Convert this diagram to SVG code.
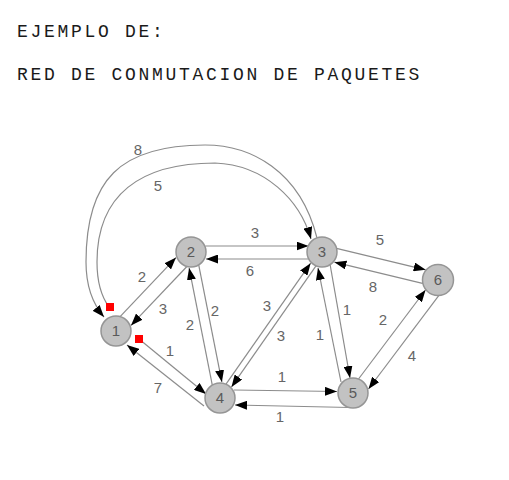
<svg xmlns="http://www.w3.org/2000/svg" width="509" height="480" viewBox="0 0 509 480">
<style>
.title{font-family:"Liberation Mono",monospace;font-size:18px;letter-spacing:2.7px;fill:#1a1a1a}
.edge{fill:none;stroke:#8c8c8c;stroke-width:1.2;marker-end:url(#ah)}
.lbl{font-family:"Liberation Sans",Arial,sans-serif;font-size:15px;fill:#666;text-anchor:middle}
.node circle{fill:#c2c2c2;stroke:#959595;stroke-width:1.5}
.node text{font-family:"Liberation Sans",Arial,sans-serif;font-size:15px;fill:#5a5a5a;text-anchor:middle}
.handle{fill:#ff0000}
</style>
<defs>
<marker id="ah" viewBox="0 0 12 9" refX="12" refY="4.5" markerWidth="12" markerHeight="9" markerUnits="userSpaceOnUse" orient="auto">
<path d="M0,0 L12,4.5 L0,9 z" fill="#000"/>
</marker>
</defs>
<rect width="509" height="480" fill="#fff"/>
<text class="title" x="17" y="37">EJEMPLO DE:</text>
<text class="title" x="17" y="80">RED DE CONMUTACION DE PAQUETES</text>
<g id="connectors">
<path class="edge" d="M205.5,246 L308.5,246"/>
<path class="edge" d="M308.5,259 L206,259"/>
<path class="edge" d="M120.1,316.6 L176,257.6"/>
<path class="edge" d="M186.9,266.5 L131,325.4"/>
<path class="edge" d="M198.7,264.9 L221.9,382.1"/>
<path class="edge" d="M212.3,385.1 L189.1,267.9"/>
<path class="edge" d="M226,384.2 L310.6,263.2"/>
<path class="edge" d="M316,265.8 L231.5,386.9"/>
<path class="edge" d="M330,264 L350,378"/>
<path class="edge" d="M341,382 L318,268"/>
<path class="edge" d="M336.5,248.3 L425.7,269.8"/>
<path class="edge" d="M423.5,283.7 L334.4,262.2"/>
<path class="edge" d="M358.5,379 L425.5,290"/>
<path class="edge" d="M439.3,294.9 L368.5,389"/>
<path class="edge" d="M234,390 L337,391.5"/>
<path class="edge" d="M350,407.5 L235,405"/>
<path class="edge" d="M139,339 L206,394"/>
<path class="edge" d="M204,406 L127,345"/>
<path class="edge" d="M317,238 C300,170 250,145 205,145 C120,145 86,180 86,262 C86,285 92,303 104,317"/>
<path class="edge" d="M109,307 C101,296 97,282 97,262 C97,195 140,163 215,163 C265,165 300,200 311,239"/>
<text class="lbl" x="138" y="155.4">8</text>
<text class="lbl" x="158" y="191.4">5</text>
<text class="lbl" x="255" y="238.4">3</text>
<text class="lbl" x="250" y="276.4">6</text>
<text class="lbl" x="142" y="282.4">2</text>
<text class="lbl" x="163" y="314.4">3</text>
<text class="lbl" x="215" y="316.4">2</text>
<text class="lbl" x="190" y="330.4">2</text>
<text class="lbl" x="267" y="311.4">3</text>
<text class="lbl" x="281" y="341.4">3</text>
<text class="lbl" x="170" y="356.4">1</text>
<text class="lbl" x="158" y="393.4">7</text>
<text class="lbl" x="282" y="382.4">1</text>
<text class="lbl" x="280" y="422.4">1</text>
<text class="lbl" x="347" y="315.4">1</text>
<text class="lbl" x="320" y="340.4">1</text>
<text class="lbl" x="380" y="245.4">5</text>
<text class="lbl" x="373" y="292.4">8</text>
<text class="lbl" x="383" y="325.4">2</text>
<text class="lbl" x="412" y="361.4">4</text>
</g>
<g id="node1" class="node"><circle cx="116" cy="331" r="15"/><text x="116" y="336.4">1</text></g>
<g id="node2" class="node"><circle cx="191" cy="252" r="15"/><text x="191" y="257.4">2</text></g>
<g id="node3" class="node"><circle cx="322" cy="252" r="15"/><text x="322" y="257.4">3</text></g>
<g id="node4" class="node"><circle cx="220" cy="398" r="15"/><text x="220" y="403.4">4</text></g>
<g id="node5" class="node"><circle cx="353" cy="393" r="15"/><text x="353" y="398.4">5</text></g>
<g id="node6" class="node"><circle cx="438" cy="280" r="15.5"/><text x="438" y="285.4">6</text></g>
<rect class="handle" x="106" y="303" width="8" height="8"/>
<rect class="handle" x="135" y="335" width="8" height="8"/>
</svg>
